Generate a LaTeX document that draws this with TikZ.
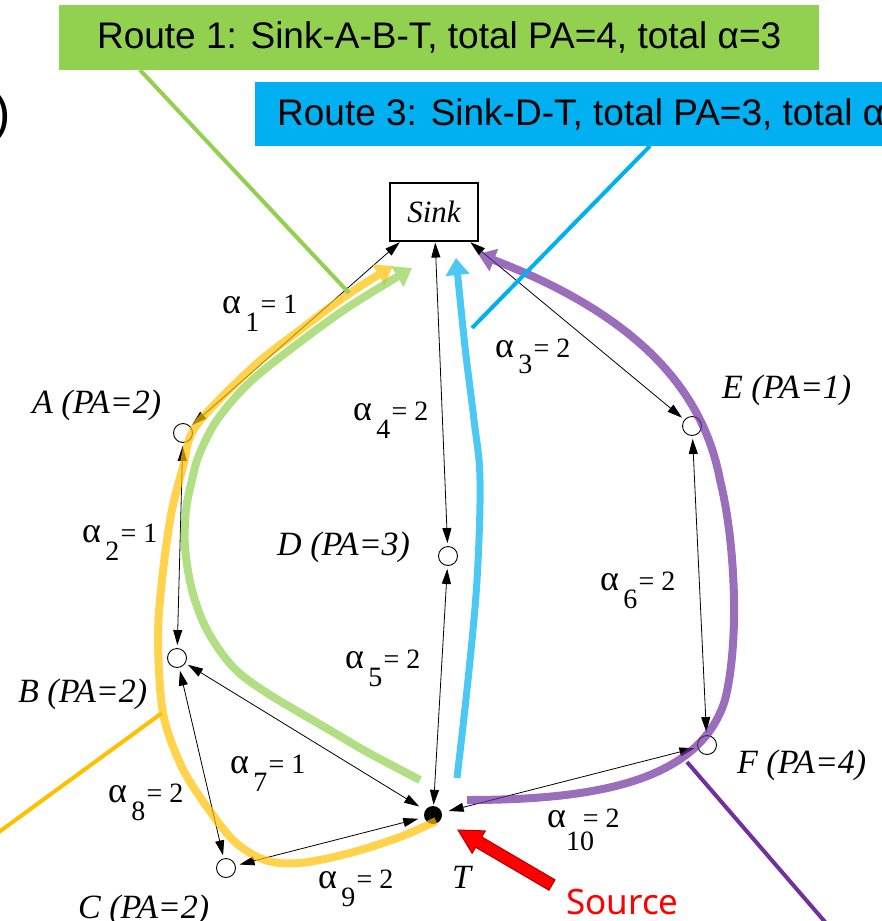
\documentclass[tikz,border=0pt]{standalone}
\usepackage{fontspec}
\setmainfont{Liberation Serif}
\newfontfamily\arialf{Liberation Sans}
\newfontfamily\srcf{Noto Sans}
\usetikzlibrary{arrows.meta}
\definecolor{rgreen}{HTML}{92D050}
\definecolor{rblue}{HTML}{00B0F0}
\definecolor{ryellow}{HTML}{FFC000}
\definecolor{rpurple}{HTML}{7030A0}
\definecolor{darkred}{HTML}{B00000}
\newcommand{\bigalpha}{{\fontsize{36}{36}\selectfont α}}
\newcommand{\alab}[3][0.65em]{\bigalpha\hspace{0.15em}\rlap{\raisebox{-#1}{#2}}\hspace{0.55em}=\ #3}
\begin{document}
\begin{tikzpicture}[x=1pt,y=-1pt,
  pnode/.style={circle, draw, line width=0.9pt, minimum size=19pt, inner sep=0pt, fill=white},
  tnode/.style={circle, fill=black, minimum size=18pt, inner sep=0pt},
  biedge/.style={line width=0.8pt, {Triangle[length=15pt,width=9pt]}-{Triangle[length=15pt,width=9pt]}},
  lbl/.style={anchor=base west, inner sep=0pt, font=\fontsize{34}{34}\selectfont\itshape},
  alb/.style={anchor=base west, inner sep=0pt, font=\fontsize{28}{28}\selectfont},
  route/.style={line width=8pt, -{Triangle[length=17pt,width=23pt]}},
  callout/.style={line width=4pt},
  banner/.style={inner sep=0pt, font=\arialf\fontsize{37}{37}\selectfont}
]
\useasboundingbox (0,0) rectangle (882,921);

% graph nodes
\node[draw, line width=1.1pt, minimum width=88pt, minimum height=58pt, inner sep=0pt,
      font=\fontsize{31}{31}\selectfont\itshape] (Sink) at (434,212) {Sink};
\node[pnode] (A) at (183,433) {};
\node[pnode] (B) at (177,658) {};
\node[pnode] (C) at (226,868) {};
\node[pnode] (D) at (448,556) {};
\node[pnode] (E) at (692,426) {};
\node[pnode] (F) at (707,745) {};
\node[tnode] (T) at (433,815) {};

% node labels
\node[lbl] (lA) at (32,413) {A (PA=2)};
\node[lbl] (lB) at (18,702) {B (PA=2)};
\node[lbl] (lC) at (78,918) {C (PA=2)};
\node[lbl] (lD) at (277,555) {D (PA=3)};
\node[lbl] (lE) at (722,398) {E (PA=1)};
\node[lbl] (lF) at (737,773) {F (PA=4)};
\node[lbl] (lT) at (452,888) {T};

% edge weights
\node[alb] (a1) at (222,313) {\alab{1}{1}};
\node[alb] (a2) at (82,542) {\alab{2}{1}};
\node[alb] (a3) at (495,357) {\alab[0.6em]{3}{2}};
\node[alb] (a4) at (353,420) {\alab{4}{2}};
\node[alb] (a5) at (345,668) {\alab{5}{2}};
\node[alb] (a6) at (600,590) {\alab{6}{2}};
\node[alb] (a7) at (230,773) {\alab{7}{1}};
\node[alb] (a8) at (108,802) {\alab{8}{2}};
\node[alb] (a9) at (318,888) {\alab{9}{2}};
\node[alb] (a10) at (547,827) {\bigalpha\rlap{\raisebox{-0.85em}{10}}\hspace{0.6em}=\ 2};

% black edges
\draw[biedge, shorten <=1pt, shorten >=2pt] (Sink) -- (A);
\draw[biedge, shorten <=3pt, shorten >=3pt] (A) -- (B);
\draw[biedge, shorten <=1pt, shorten >=3pt] (Sink) -- (D);
\draw[biedge, shorten <=1pt, shorten >=3pt] (Sink) -- (E);
\draw[biedge, shorten <=3pt, shorten >=3pt] (E) -- (F);
\draw[biedge, shorten <=3pt, shorten >=1pt] (D) -- (T);
\draw[biedge, shorten <=3pt, shorten >=7pt] (B) -- (T);
\draw[biedge, shorten <=3pt, shorten >=3pt] (B) -- (C);
\draw[biedge, shorten <=4pt, shorten >=6pt] (C) -- (T);
\draw[biedge, shorten <=7pt, shorten >=3pt] (T) -- (F);

% routes
\begin{scope}[transparency group, opacity=0.7]
\draw[route, ryellow] plot[smooth, tension=0.55] coordinates {(436,821) (400,837) (350,853) (300,863) (265,860) (233,840) (200,797) (180,763) (163,713) (158,640) (162,580) (171,515) (183,467) (196,426) (253,367) (300,330) (350,293) (393,266)};
\end{scope}
\begin{scope}[transparency group, opacity=0.7]
\draw[route, rgreen] plot[smooth, tension=0.55] coordinates {(420,780) (367,752) (333,732) (267,693) (233,667) (207,630) (192,590) (185,547) (186,510) (192,480) (199,455) (217,420) (250,382) (300,342) (350,306) (412,268)};
\end{scope}
\begin{scope}[transparency group, opacity=0.7]
\draw[route, rblue, line width=7pt] plot[smooth, tension=0.6] coordinates {(457,778) (468,680) (477,580) (480,480) (474,420) (465,347) (456,258)};
\end{scope}
\begin{scope}[transparency group, opacity=0.7]
\draw[route, rpurple] (467,800) .. controls (600,800) and (700,780) .. (725,700)
  .. controls (740,640) and (735,540) .. (720,480)
  .. controls (705,400) and (650,320) .. (478,254);
\end{scope}

% banners
\node[banner, fill=rgreen, minimum width=760pt, minimum height=65pt, anchor=north west] (b1) at (59,5) {Route 1: Sink-A-B-T, total PA=4, total α=3};
\node[fill=rblue, minimum width=660pt, minimum height=64pt, anchor=north west, inner sep=0pt] (b3) at (255,82) {};
\node[banner, anchor=west] (t3) at (277,114) {Route 3: Sink-D-T, total PA=3, total α};

% callout lines
\coordinate (g0) at (140,70);
\coordinate (g1) at (349,293);
\coordinate (c0) at (650,146);
\coordinate (c1) at (472,328);
\coordinate (y0) at (162,713);
\coordinate (y1) at (-12,840);
\coordinate (p0) at (687,762);
\coordinate (p1) at (832,930);
\draw[callout, rgreen] (g0) -- (g1);
\draw[callout, rblue] (c0) -- (c1);
\draw[callout, ryellow] (y0) -- (y1);
\draw[callout, rpurple] (p0) -- (p1);

% left parenthesis fragment
\node[anchor=east, inner sep=0pt, font=\arialf\fontsize{52}{52}\selectfont] (paren) at (11,117) {)};

% source arrow
\fill[red, draw=darkred, line width=1pt] (555.0,879.8) -- (481.7,836.9) -- (485.3,830.9) -- (458,830) -- (472.1,853.3) -- (475.7,847.3) -- (549.0,890.2) -- cycle;
\node[anchor=base west, inner sep=0pt, text=red, font=\srcf\fontsize{35}{35}\selectfont] (src) at (566,914) {Source};
\end{tikzpicture}
\end{document}
